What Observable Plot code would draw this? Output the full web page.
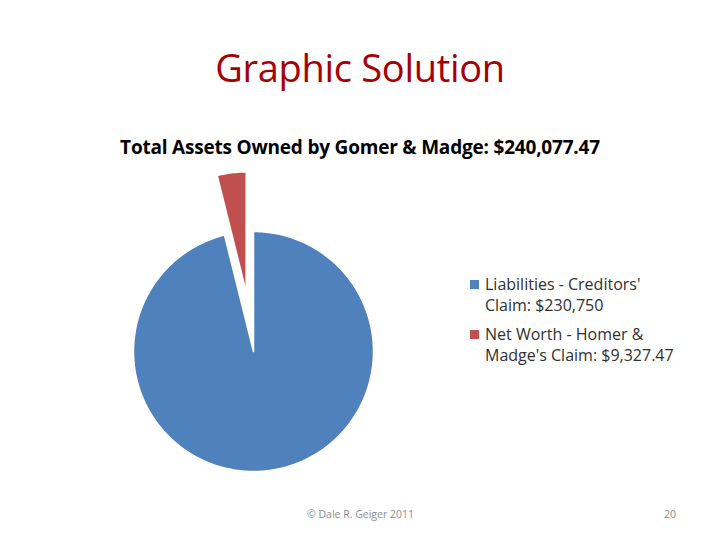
<!DOCTYPE html>
<html>
<head>
<meta charset="utf-8">
<script src="https://cdn.jsdelivr.net/npm/d3@7"></script>
<script src="https://cdn.jsdelivr.net/npm/@observablehq/plot@0.6"></script>
<style>
  html, body { margin: 0; padding: 0; background: #fff; }
  body { width: 720px; height: 540px; position: relative; overflow: hidden; font-family: "Open Sans", "Noto Sans", sans-serif; }
  .abs { position: absolute; white-space: nowrap; }
  #slideTitle { left: 0; width: 720px; top: 42px; text-align: center; font-size: 38px; color: #A80000; line-height: 50px; letter-spacing: -0.3px; }
  #chartTitle { left: 0; width: 720px; top: 134px; text-align: center; font-size: 19px; font-weight: bold; color: #000; line-height: 26px; letter-spacing: -0.2px; }
  #chart { left: 123px; top: 165px; }
  #legend { left: 469px; top: 274px; color: #303030; font-size: 16px; line-height: 21px; }
  .item { position: relative; padding-left: 16px; margin-bottom: 8px; }
  .sw { position: absolute; left: 1px; top: 6px; width: 9px; height: 9px; }
  #footer { left: 307px; top: 507px; font-size: 10.5px; color: #8c8c8c; }
  #page { left: 664px; top: 507px; font-size: 10.5px; color: #8c8c8c; }
</style>
</head>
<body>
<div id="slideTitle" class="abs">Graphic Solution</div>
<div id="chartTitle" class="abs">Total Assets Owned by Gomer &amp; Madge: $240,077.47</div>
<div id="chart" class="abs"></div>
<div id="legend" class="abs"></div>
<div id="footer" class="abs">© Dale R. Geiger 2011</div>
<div id="page" class="abs">20</div>
<script>
// Data
const categories = ["Liabilities - Creditors' Claim", "Net Worth - Homer & Madge's Claim"];
const values = [230750, 9327.47];
const valueLabels = ["$230,750", "$9,327.47"];
const colors = ["#4F81BD", "#C0504D"];
const explode = [0, 0.5];   // explosion as fraction of radius

// Build slice outlines from the data with d3.pie
const arcs = d3.pie().sort(null).value(d => d)(values);
const rows = [];
arcs.forEach((a, i) => {
  const mid = (a.startAngle + a.endAngle) / 2;
  const ox = Math.sin(mid) * explode[i];
  const oy = Math.cos(mid) * explode[i];
  rows.push({slice: categories[i], x: ox, y: oy});
  const n = Math.max(4, Math.ceil((a.endAngle - a.startAngle) / (Math.PI / 180)));
  for (let k = 0; k <= n; k++) {
    const t = a.startAngle + (a.endAngle - a.startAngle) * k / n;
    rows.push({slice: categories[i], x: ox + Math.sin(t), y: oy + Math.cos(t)});
  }
});

const W = 260, H = 320, pxPerUnit = 120, cxPx = 130, cyPx = 186;
const chart = Plot.plot({
  width: W,
  height: H,
  margin: 0,
  x: {domain: [-cxPx / pxPerUnit, (W - cxPx) / pxPerUnit], axis: null},
  y: {domain: [-(H - cyPx) / pxPerUnit, cyPx / pxPerUnit], axis: null},
  color: {domain: categories, range: colors},
  marks: [
    Plot.line(rows, {x: "x", y: "y", z: "slice", fill: "slice", stroke: "white", strokeWidth: 1.5, curve: "linear-closed"})
  ]
});
document.getElementById("chart").appendChild(chart);

// Legend
const legend = document.getElementById("legend");
const legendLines = [["Liabilities - Creditors'", "Claim: " + valueLabels[0]], ["Net Worth - Homer &", "Madge's Claim: " + valueLabels[1]]];
categories.forEach((c, i) => {
  const div = document.createElement("div");
  div.className = "item";
  const sw = document.createElement("span");
  sw.className = "sw";
  sw.style.background = colors[i];
  div.appendChild(sw);
  div.appendChild(document.createTextNode(legendLines[i][0]));
  div.appendChild(document.createElement("br"));
  div.appendChild(document.createTextNode(legendLines[i][1]));
  legend.appendChild(div);
});
</script>
</body>
</html>
